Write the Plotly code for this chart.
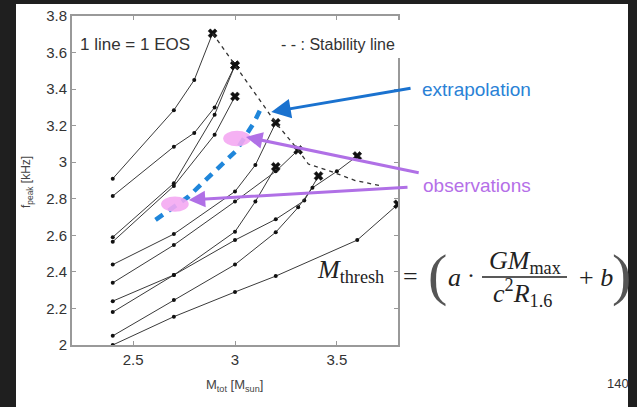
import plotly.graph_objects as go

# ---------------- data ----------------
EOS_MTOT = [
    [2.4, 2.7, 2.8, 2.89],
    [2.4, 2.7, 2.8, 2.9, 3.0],
    [2.4, 2.7, 2.9, 3.0],
    [2.4, 2.7, 2.9, 3.0],
    [2.4, 2.7, 3.0, 3.1, 3.2],
    [2.4, 2.7, 3.0, 3.2, 3.31],
    [2.4, 2.7, 3.0, 3.1, 3.2],
    [2.4, 2.7, 3.0, 3.2, 3.34, 3.41],
    [2.4, 2.7, 3.0, 3.2, 3.31, 3.38, 3.5, 3.6],
    [2.4, 2.7, 3.0, 3.2, 3.6, 3.8],
]
EOS_FPEAK = [
    [2.91, 3.285, 3.45, 3.705],
    [2.815, 3.085, 3.16, 3.30, 3.53],
    [2.59, 2.885, 3.26, 3.53],
    [2.565, 2.87, 3.15, 3.36],
    [2.44, 2.607, 2.84, 2.985, 3.216],
    [2.34, 2.547, 2.785, 2.95, 3.067],
    [2.24, 2.383, 2.62, 2.785, 2.975],
    [2.18, 2.383, 2.574, 2.688, 2.79, 2.925],
    [2.05, 2.246, 2.44, 2.617, 2.753, 2.86, 2.95, 3.034],
    [2.0, 2.155, 2.29, 2.377, 2.574, 2.77],
]
STAB_M = [2.89, 3.0, 3.2, 3.31, 3.36, 3.47, 3.59, 3.72]
STAB_F = [3.705, 3.53, 3.216, 3.067, 2.99, 2.95, 2.90, 2.87]
EXTRAP_M = [2.61, 2.69, 2.77, 2.83, 2.89, 2.95, 3.005, 3.055, 3.095, 3.125]
EXTRAP_F = [2.685, 2.747, 2.81, 2.875, 2.94, 3.0, 3.062, 3.15, 3.22, 3.29]
OBS_M = [2.705, 3.01]
OBS_F = [2.771, 3.13]
X_TICKS = [2.5, 3, 3.5]
Y_TICKS = [2, 2.2, 2.4, 2.6, 2.8, 3, 3.2, 3.4, 3.6, 3.8]

W, H = 637, 407
DARK = "#1f1f1f"
SANS = "Liberation Sans, Arial, sans-serif"
SERIF = "Liberation Serif, Times New Roman, serif"


def px(x):
    return x / W


def py(y):
    return 1 - y / H


fig = go.Figure()

# EOS lines
for m, f in zip(EOS_MTOT, EOS_FPEAK):
    fig.add_trace(go.Scatter(x=m, y=f, mode="lines", line=dict(color="#3a3a3a", width=1),
                             hoverinfo="skip"))
    fig.add_trace(go.Scatter(x=m[:-1], y=f[:-1], mode="markers",
                             marker=dict(color="#111", size=4), hoverinfo="skip"))

# end points (crosses)
fig.add_trace(go.Scatter(x=[m[-1] for m in EOS_MTOT], y=[f[-1] for f in EOS_FPEAK],
                         mode="markers",
                         marker=dict(symbol="x", color="#111", size=8,
                                     line=dict(color="#111", width=0.5)),
                         hoverinfo="skip"))

# stability line
fig.add_trace(go.Scatter(x=STAB_M, y=STAB_F, mode="lines",
                         line=dict(color="#333", width=1.3, dash="4px,4px"),
                         hoverinfo="skip"))

shapes = []
# white slide
shapes.append(dict(type="rect", xref="paper", yref="paper", x0=px(16), x1=px(628),
                   y0=0, y1=py(4), fillcolor="white", line=dict(width=0), layer="below"))

# observation blobs (pink ellipses)
hw, hh = 0.068, 0.042
for m, f in zip(OBS_M, OBS_F):
    shapes.append(dict(type="circle", xref="x", yref="y", x0=m - hw, x1=m + hw,
                       y0=f - hh, y1=f + hh, fillcolor="#f4a8f2",
                       line=dict(width=0), layer="above", opacity=0.9))

# gap in right axis frame behind the legend text
shapes.append(dict(type="rect", xref="paper", yref="paper", x0=px(388), x1=px(403),
                   y0=py(58), y1=py(20), fillcolor="white", line=dict(width=0),
                   layer="above"))
# fraction bar
shapes.append(dict(type="line", xref="paper", yref="paper", x0=px(482), x1=px(567),
                   y0=py(277), y1=py(277), line=dict(color="#222", width=1.5),
                   layer="above"))

fig.add_trace(go.Scatter(x=EXTRAP_M, y=EXTRAP_F, mode="lines",
                         line=dict(color="#1f86da", width=4.5, dash="9px,7px"),
                         hoverinfo="skip"))

ann = []


def text(x, y, s, size, color="#333", font=SANS, **kw):
    d = dict(xref="paper", yref="paper", x=px(x), y=py(y), text=s, showarrow=False,
             font=dict(size=size, color=color, family=font), xanchor="center",
             yanchor="middle")
    d.update(kw)
    ann.append(d)


text(78, 44, "1 line = 1 EOS", 17, xanchor="left")
text(397, 44, "- - : Stability line", 16, xanchor="right", bgcolor="white")
text(420, 90, "extrapolation", 19, color="#2a82d6", xanchor="left")
text(421, 185, "observations", 19, color="#b56fe8", xanchor="left")

# axis titles
text(234, 385, "M<sub>tot</sub> [M<sub>sun</sub>]", 13, color="#444")
text(27, 182, "f<sub>peak</sub> [kHz]", 12, color="#444", textangle=-90)

# formula
text(351, 271, "<i>M</i><sub>thresh</sub>", 26, color="#222", font=SERIF)
text(410, 276, "=", 26, color="#222", font=SERIF)
text(438, 274, "(", 58, color="#555", font=SERIF)
text(454, 277, "<i>a</i>", 26, color="#222", font=SERIF)
text(471, 275, "·", 24, color="#222", font=SERIF)
text(525, 262, "<i>GM</i><sub>max</sub>", 26, color="#222", font=SERIF)
text(522, 293, "<i>c</i><sup>2</sup><i>R</i><sub>1.6</sub>", 26, color="#222", font=SERIF)
text(596, 277, "+ <i>b</i>", 26, color="#222", font=SERIF)
text(621, 274, ")", 58, color="#555", font=SERIF)

# page number
text(605, 383, "140", 13, color="#333", xanchor="left")


def arrow(tip_x, tip_y, tail_x, tail_y, color, size=1.1):
    ann.append(dict(xref="x", yref="y", axref="x", ayref="y", x=tip_x, y=tip_y,
                    ax=tail_x, ay=tail_y, text="", showarrow=True, arrowhead=2,
                    arrowsize=size, arrowwidth=3, arrowcolor=color))


arrow(3.178, 3.275, 3.869, 3.406, "#1a72cf", 1.3)
arrow(3.054, 3.138, 3.909, 2.941, "#b070e6")
arrow(2.773, 2.793, 3.854, 2.864, "#b070e6")

axis_common = dict(showgrid=False, zeroline=False, showline=True, linecolor="#999",
                   linewidth=2, mirror="ticks", ticks="inside", ticklen=4,
                   tickcolor="#999", automargin=False,
                   tickfont=dict(size=15, color="#333", family=SANS))

fig.update_layout(
    width=W, height=H, margin=dict(l=0, r=0, t=0, b=0, pad=0),
    paper_bgcolor=DARK, plot_bgcolor="white", showlegend=False,
    xaxis=dict(range=[2.2, 3.8], domain=[px(72), px(398)], tickvals=X_TICKS,
               **axis_common),
    yaxis=dict(range=[2.0, 3.8], domain=[py(345), py(16)], tickvals=Y_TICKS,
               **axis_common),
    shapes=shapes, annotations=ann,
)

fig.write_html("out.html")
